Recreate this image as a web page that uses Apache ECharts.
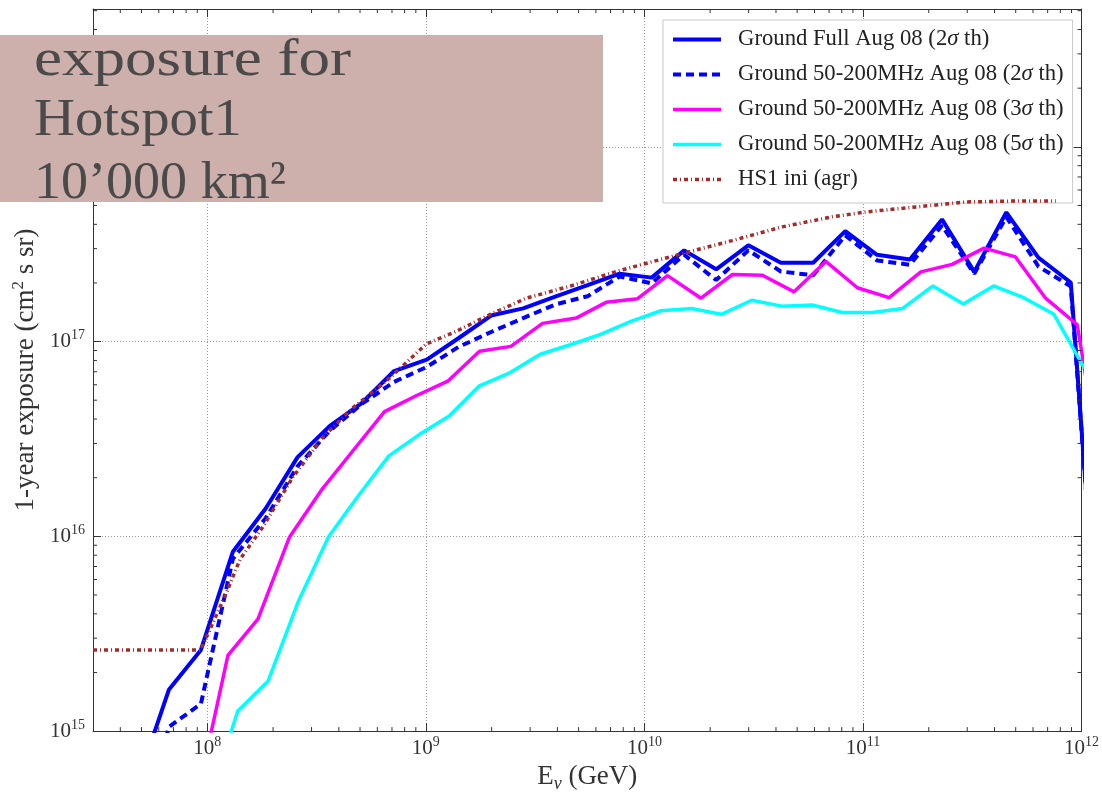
<!DOCTYPE html>
<html><head><meta charset="utf-8">
<script src="https://cdn.jsdelivr.net/npm/echarts@6/dist/echarts.min.js"></script>
<style>html,body{margin:0;padding:0;background:#fff;overflow:hidden}#c{width:1102px;height:798px}</style>
</head><body><div id="c"></div>
<script>
// ---- data ----
const seriesNames = [
  'Ground Full Aug 08 (2σ th)',
  'Ground 50-200MHz Aug 08 (2σ th)',
  'Ground 50-200MHz Aug 08 (3σ th)',
  'Ground 50-200MHz Aug 08 (5σ th)',
  'HS1 ini (agr)'
];
// energy grid (GeV) of the two 2-sigma curves
const energyBlue = [4.75e7, 6.67e7, 9.35e7, 1.31e8, 1.85e8, 2.59e8, 3.64e8, 5.11e8, 7.16e8, 1.01e9, 1.41e9, 1.99e9, 2.79e9, 3.91e9, 5.50e9, 7.71e9, 1.08e10, 1.52e10, 2.13e10, 2.99e10, 4.21e10, 5.92e10, 8.30e10, 1.16e11, 1.64e11, 2.30e11, 3.23e11, 4.53e11, 6.35e11, 8.93e11, 1.25e12];
const fullAug2sigma = [5.3e14, 1.63e15, 2.61e15, 8.34e15, 1.39e16, 2.55e16, 3.69e16, 4.85e16, 7.06e16, 8.07e16, 1.04e17, 1.36e17, 1.48e17, 1.70e17, 1.95e17, 2.23e17, 2.13e17, 2.94e17, 2.35e17, 3.12e17, 2.54e17, 2.54e17, 3.69e17, 2.79e17, 2.64e17, 4.24e17, 2.28e17, 4.61e17, 2.70e17, 2.01e17, 1.2e15];
const band2sigma = [2.4e14, 1.05e15, 1.38e15, 7.67e15, 1.24e16, 2.29e16, 3.49e16, 4.80e16, 6.21e16, 7.41e16, 9.38e16, 1.12e17, 1.32e17, 1.55e17, 1.71e17, 2.16e17, 1.99e17, 2.79e17, 2.07e17, 2.94e17, 2.29e17, 2.19e17, 3.51e17, 2.61e17, 2.48e17, 3.94e17, 2.23e17, 4.36e17, 2.43e17, 1.92e17, 1.2e15];
// 3-sigma curve
const energyMagenta = [8.91e7, 1.243e8, 1.705e8, 2.38e8, 3.32e8, 4.64e8, 6.47e8, 9.03e8, 1.26e9, 1.76e9, 2.45e9, 3.42e9, 4.87e9, 6.68e9, 9.31e9, 1.276e10, 1.815e10, 2.53e10, 3.47e10, 4.84e10, 6.76e10, 9.43e10, 1.317e11, 1.84e11, 2.56e11, 3.58e11, 4.99e11, 6.85e11, 9.56e11, 1.33e12];
const band3sigma = [4.4e14, 2.45e15, 3.76e15, 9.93e15, 1.72e16, 2.75e16, 4.37e16, 5.27e16, 6.26e16, 8.91e16, 9.45e16, 1.24e17, 1.32e17, 1.59e17, 1.66e17, 2.18e17, 1.67e17, 2.21e17, 2.19e17, 1.80e17, 2.58e17, 1.89e17, 1.68e17, 2.28e17, 2.49e17, 3.02e17, 2.72e17, 1.67e17, 1.22e17, 1.3e16];
// 5-sigma curve
const energyCyan = [1.005e8, 1.38e8, 1.90e8, 2.61e8, 3.59e8, 4.94e8, 6.78e8, 9.33e8, 1.28e9, 1.76e9, 2.42e9, 3.34e9, 4.58e9, 6.31e9, 8.67e9, 1.19e10, 1.64e10, 2.25e10, 3.10e10, 4.26e10, 5.86e10, 8.05e10, 1.107e11, 1.52e11, 2.09e11, 2.88e11, 3.96e11, 5.44e11, 7.48e11, 1.03e12];
const band5sigma = [4.2e14, 1.27e15, 1.81e15, 4.63e15, 9.94e15, 1.63e16, 2.59e16, 3.33e16, 4.15e16, 5.93e16, 6.91e16, 8.61e16, 9.63e16, 1.09e17, 1.27e17, 1.44e17, 1.48e17, 1.38e17, 1.63e17, 1.52e17, 1.54e17, 1.41e17, 1.41e17, 1.48e17, 1.93e17, 1.56e17, 1.93e17, 1.68e17, 1.38e17, 7.3e16];
// HS1 initial (agr)
const energyHS1 = [3.0e7, 9.33e7, 1.22e8, 1.41e8, 1.80e8, 2.46e8, 3.38e8, 4.64e8, 6.59e8, 1.004e9, 1.38e9, 1.95e9, 2.88e9, 4.68e9, 7.44e9, 1.49e10, 2.52e10, 4.27e10, 7.23e10, 1.03e11, 1.75e11, 2.96e11, 5.01e11, 7.63e11];
const hs1Initial = [2.61e15, 2.61e15, 5.09e15, 7.59e15, 1.12e16, 2.01e16, 3.22e16, 4.58e16, 6.27e16, 9.71e16, 1.13e17, 1.37e17, 1.67e17, 1.94e17, 2.29e17, 2.83e17, 3.30e17, 3.88e17, 4.37e17, 4.63e17, 4.91e17, 5.21e17, 5.27e17, 5.27e17];

const xRange = [3e7, 1e12];
const yRange = [1e15, 5.1e18];
const annotationLines = ['exposure for', 'Hotspot1', '10’000 km²'];

// ---- helpers ----
const SERIF = '"Liberation Serif", "DejaVu Serif", serif';
const pairs = (xs, ys) => xs.map((x, i) => [x, ys[i]]);
const powLabel = v => {
  const l = Math.log10(v), r = Math.round(l);
  if (Math.abs(l - r) > 1e-6) return '';
  return '{b|10}{s|' + r + '}';
};
const tickRich = {
  b: {fontFamily: SERIF, fontSize: 21, color: '#333', lineHeight: 26, verticalAlign: 'middle'},
  s: {fontFamily: SERIF, fontSize: 14, color: '#333', lineHeight: 10, verticalAlign: 'top'}
};
// minor tick positions (axis decoration)
const xMinor = [], yMinor = [];
for (let n = 7; n <= 11; n++) for (let d = 2; d <= 9; d++) { const v = d * Math.pow(10, n); if (v > xRange[0] && v < xRange[1]) xMinor.push([v, yRange[0]]); }
for (let n = 15; n <= 18; n++) for (let d = 2; d <= 9; d++) { const v = d * Math.pow(10, n); if (v > yRange[0] && v < yRange[1]) yMinor.push([xRange[0], v]); }

const frame = '#333';
const logAxisBase = (range) => ({
  type: 'log', logBase: 10, min: range[0], max: range[1],
  axisLine: {show: true, onZero: false, lineStyle: {color: frame, width: 1}},
  axisTick: {show: true, inside: true, length: 8, lineStyle: {color: frame, width: 1}},
  minorTick: {show: false}
});

const colors = ['#0000ff', '#0000ff', '#ff00ff', '#00ffff', '#a52a2a'];
const lineStyles = [
  {color: colors[0], width: 4, type: 'solid'},
  {color: colors[1], width: 4, type: [8, 5]},
  {color: colors[2], width: 3.5, type: 'solid'},
  {color: colors[3], width: 3.5, type: 'solid'},
  {color: colors[4], width: 3.5, type: [4, 3, 1, 3]}
];
const dataSets = [
  pairs(energyBlue, fullAug2sigma),
  pairs(energyBlue, band2sigma),
  pairs(energyMagenta, band3sigma),
  pairs(energyCyan, band5sigma),
  pairs(energyHS1, hs1Initial)
];

const lineSeries = seriesNames.map((name, i) => ({
  name, type: 'line', data: dataSets[i], symbol: 'none', showSymbol: false,
  clip: true, smooth: false, animation: false,
  lineStyle: lineStyles[i], itemStyle: {color: colors[i]}, z: 2 + i
}));

const minorSeries = [
  {
    type: 'custom', data: xMinor, silent: true, clip: false, animation: false, z: 10,
    renderItem: (params, api) => {
      const cs = params.coordSys;
      const x = api.coord([api.value(0), api.value(1)])[0];
      return {type: 'group', children: [
        {type: 'line', shape: {x1: x, y1: cs.y + cs.height, x2: x, y2: cs.y + cs.height - 4}, style: {stroke: frame, lineWidth: 1}},
        {type: 'line', shape: {x1: x, y1: cs.y, x2: x, y2: cs.y + 4}, style: {stroke: frame, lineWidth: 1}}
      ]};
    }
  },
  {
    type: 'custom', data: yMinor, silent: true, clip: false, animation: false, z: 10,
    renderItem: (params, api) => {
      const cs = params.coordSys;
      const y = api.coord([api.value(0), api.value(1)])[1];
      return {type: 'group', children: [
        {type: 'line', shape: {x1: cs.x, y1: y, x2: cs.x + 4, y2: y}, style: {stroke: frame, lineWidth: 1}},
        {type: 'line', shape: {x1: cs.x + cs.width, y1: y, x2: cs.x + cs.width - 4, y2: y}, style: {stroke: frame, lineWidth: 1}}
      ]};
    }
  }
];

const LEG_FS = 22.7;
const legendRich = {
  n: {fontFamily: SERIF, fontSize: LEG_FS, color: '#222', lineHeight: 22},
  i: {fontFamily: SERIF, fontSize: LEG_FS, color: '#222', fontStyle: 'italic', lineHeight: 22}
};
const annoFont = '53px "Liberation Serif"';
const annoScaleX = [1.19, 1.07, 1.02];
const annoY = [61, 121, 184.5];

const option = {
  animation: false,
  backgroundColor: '#fff',
  grid: {left: 93, top: 9, width: 989, height: 726.5, containLabel: false},
  xAxis: [
    Object.assign(logAxisBase(xRange), {
      position: 'bottom',
      axisLabel: {formatter: powLabel, margin: 4, rich: tickRich, showMinLabel: true, showMaxLabel: true, hideOverlap: false},
      splitLine: {show: true, lineStyle: {color: '#9a9a9a', type: [1, 2], width: 1}},
      name: '{n|E}{sub|ν}{n| (GeV)}', nameLocation: 'middle', nameGap: 23,
      nameTextStyle: {rich: {
        n: {fontFamily: SERIF, fontSize: 27, color: '#333', lineHeight: 32},
        sub: {fontFamily: SERIF, fontSize: 18, color: '#333', fontStyle: 'italic', lineHeight: 20, verticalAlign: 'bottom'}
      }}
    }),
    Object.assign(logAxisBase(xRange), {position: 'top', axisLabel: {show: false}, splitLine: {show: false}})
  ],
  yAxis: [
    Object.assign(logAxisBase(yRange), {
      position: 'left',
      axisLabel: {formatter: powLabel, margin: 8, rich: tickRich, showMinLabel: true, showMaxLabel: true, hideOverlap: false},
      splitLine: {show: true, lineStyle: {color: '#9a9a9a', type: [1, 2], width: 1}},
      name: '{n|1-year exposure (cm}{s|2}{n| s sr)}', nameLocation: 'middle', nameGap: 49, nameRotate: 90,
      nameTextStyle: {rich: {
        n: {fontFamily: SERIF, fontSize: 27, color: '#333', lineHeight: 32},
        s: {fontFamily: SERIF, fontSize: 17, color: '#333', lineHeight: 14, verticalAlign: 'top'}
      }}
    }),
    Object.assign(logAxisBase(yRange), {position: 'right', axisLabel: {show: false}, splitLine: {show: false}})
  ],
  legend: {
    data: seriesNames,
    orient: 'vertical', left: 663, top: 20,
    itemWidth: 48, itemHeight: 14, itemGap: 12,
    padding: [8, 9, 12, 8],
    backgroundColor: '#fff', borderColor: '#c8c8c8', borderWidth: 1,
    itemStyle: {opacity: 0},
    lineStyle: {width: 'inherit'},
    textStyle: {fontFamily: SERIF, fontSize: LEG_FS, color: '#222', lineHeight: 22, padding: [0, 0, 0, 12], rich: legendRich},
    formatter: name => '{n|' + name.replace('σ', '}{i|σ}{n|') + '}',
    selectedMode: false
  },
  series: lineSeries.concat(minorSeries),
  graphic: [
    {type: 'rect', shape: {x: 0, y: 35, width: 603, height: 167}, style: {fill: '#cdb0ab'}, z: 100}
  ].concat(annotationLines.map((t, i) => ({
    type: 'text', x: 34, y: annoY[i], scaleX: annoScaleX[i], z: 101,
    style: {text: t, font: annoFont, fill: '#4a4a4a', verticalAlign: 'middle', align: 'left'}
  })))
};

const chart = echarts.init(document.getElementById('c'), null, {renderer: 'canvas'});
chart.setOption(option);
</script></body></html>
